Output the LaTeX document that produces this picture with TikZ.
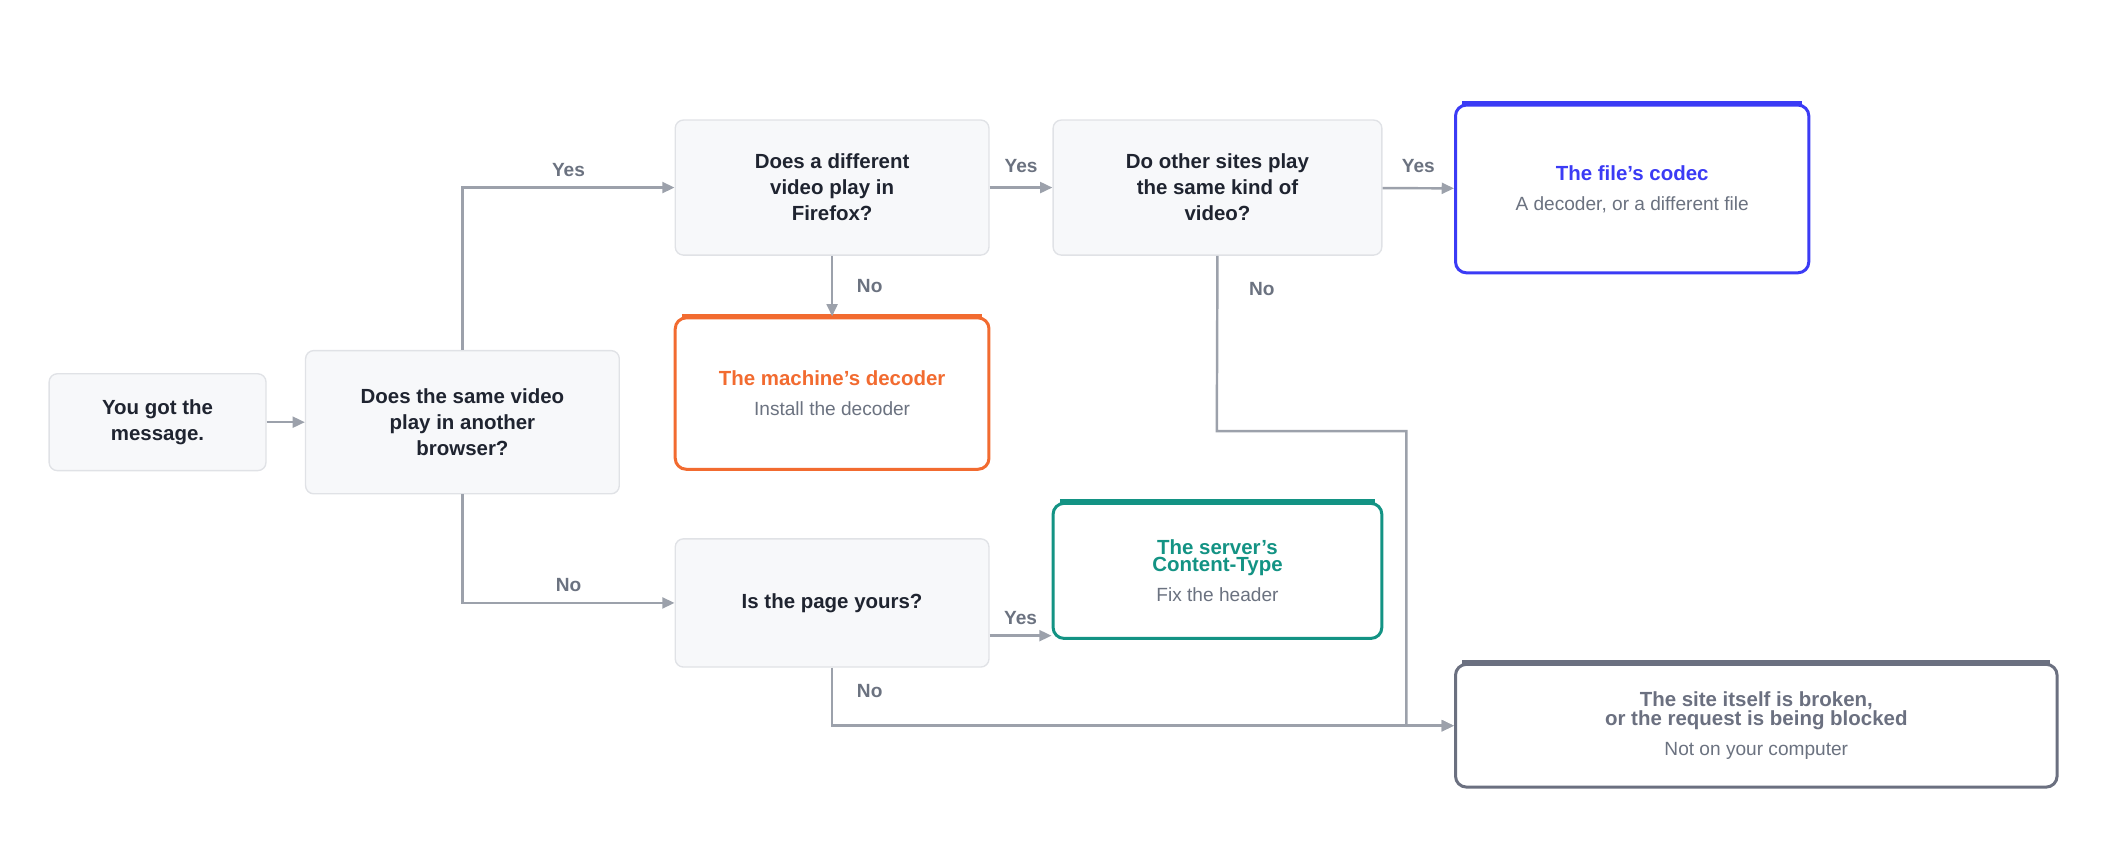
\documentclass[tikz,border=0pt]{standalone}
\usepackage{fontspec}
\setmainfont{Liberation Sans}
\usetikzlibrary{arrows.meta}
\definecolor{qfill}{HTML}{F7F8FA}
\definecolor{qline}{HTML}{E0E2E6}
\definecolor{txt}{HTML}{1F2430}
\definecolor{sub}{HTML}{6B7280}
\definecolor{edge}{HTML}{9CA1AB}
\definecolor{cblue}{HTML}{3B3BF5}
\definecolor{corange}{HTML}{F26B30}
\definecolor{cteal}{HTML}{139384}
\definecolor{cgray}{HTML}{6B7080}
\newcommand{\ttl}[2]{{\fontsize{15}{19}\selectfont\bfseries\color{#1}#2}}
\newcommand{\sbt}[1]{{\fontsize{14}{17}\selectfont\color{sub}#1}}
\begin{document}
\begin{tikzpicture}[x=1pt,y=-1pt,
  q/.style={draw=qline,fill=qfill,rounded corners=6pt,line width=1pt,align=center,text=txt,font=\fontsize{15}{19}\selectfont\bfseries,inner sep=0pt},
  r/.style={draw=#1,fill=white,rounded corners=8pt,line width=2.2pt,align=center,inner sep=0pt},
  e/.style={draw=edge,line width=1.8pt,-{Triangle[length=9pt,width=8pt]}},
  lb/.style={text=sub,font=\fontsize{14}{16}\selectfont\bfseries}]
\useasboundingbox (0,0) rectangle (1560,616);
\node[q,minimum width=159pt,minimum height=71pt] (A) at (115.5,309.5) {You got the\\message.};
\node[q,minimum width=230pt,minimum height=105pt] (B) at (339,309.5) {Does the same video\\play in another\\browser?};
\node[q,minimum width=230pt,minimum height=99pt] (C) at (610,137.5) {Does a different\\video play in\\Firefox?};
\node[q,minimum width=241pt,minimum height=99pt] (D) at (892.5,137.5) {Do other sites play\\the same kind of\\video?};
\node[q,minimum width=230pt,minimum height=94pt] (G) at (610,442) {Is the page yours?};
\node[r=cblue,minimum width=259pt,minimum height=123pt] (E) at (1196.5,138.5) {\ttl{cblue}{The file's codec}\\[10pt]\sbt{A decoder, or a different file}};
\node[r=corange,minimum width=230pt,minimum height=111pt] (F) at (610,288.5) {\ttl{corange}{The machine's decoder}\\[10pt]\sbt{Install the decoder}};
\node[r=cteal,minimum width=241pt,minimum height=99pt] (H) at (892.5,418.5) {\ttl{cteal}{The server's}\\\ttl{cteal}{Content-Type}\\[8pt]\sbt{Fix the header}};
\node[r=cgray,minimum width=441pt,minimum height=90pt] (I) at (1287.5,532) {\ttl{cgray}{The site itself is broken,}\\\ttl{cgray}{or the request is being blocked}\\[8pt]\sbt{Not on your computer}};
\foreach \n/\c in {E/cblue,F/corange,H/cteal,I/cgray}
  \draw[\c,line width=4pt] ([xshift=6pt]\n.north west) -- ([xshift=-6pt]\n.north east);
\draw[e] (A) -- (B);
\draw[e] (B.north) |- (C.west) node[lb,pos=0.75,above=4pt] {Yes};
\draw[e] (B.south) |- (G.west) node[lb,pos=0.75,above=4pt] {No};
\draw[e] (C) -- (D) node[lb,midway,above=7pt] {Yes};
\draw[e] (D) -- (E) node[lb,midway,above=7pt] {Yes};
\draw[e] (C) -- (F) node[lb,midway,right=14pt] {No};
\draw[e] ([yshift=-24pt]G.east) -- ([yshift=-24pt]G.east -| H.west) node[lb,midway,above=4pt] {Yes};
\coordinate (k1) at (892,316);
\coordinate (k2) at (1031,316);
\draw[e] (D.south) -- (k1) -- (k2) |- (I.west);
\node[lb] at (925,212) {No};
\draw[e] (G.south) |- (I.west) node[lb,pos=0.2,right=14pt] {No};
\end{tikzpicture}
\end{document}
